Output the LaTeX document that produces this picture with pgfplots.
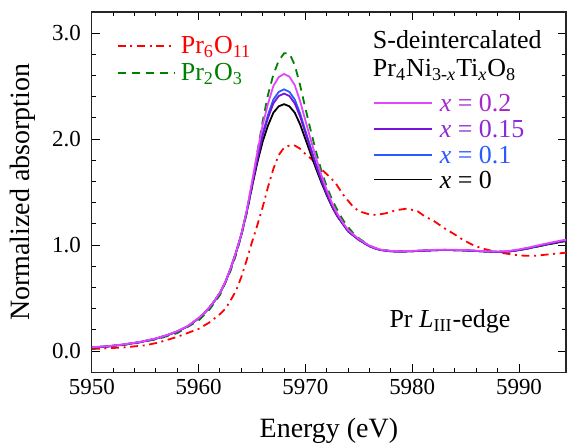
\documentclass[border=0pt]{standalone}
\usepackage{fontspec}
\setmainfont{Liberation Serif}
\usepackage{pgfplots}
\pgfplotsset{compat=1.18}
\definecolor{prsix}{RGB}{255,0,0}
\definecolor{prtwo}{RGB}{0,128,0}
\definecolor{magline}{RGB}{225,70,250}
\definecolor{magtext}{RGB}{165,40,205}
\definecolor{purline}{RGB}{120,20,215}
\definecolor{purtext}{RGB}{140,40,215}
\definecolor{bluline}{RGB}{40,90,255}

\begin{document}
\begin{tikzpicture}
\path[use as bounding box] (-46pt,-35pt) rectangle (238pt,186.5pt);
\begin{axis}[
  at={(0,0)}, anchor=south west,
  scale only axis, width=237.5pt, height=180.5pt,
  xmin=5950, xmax=5994.4, ymin=-0.2, ymax=3.2,
  xtick={5950,5960,5970,5980,5990}, minor x tick num=4,
  ytick={0,1,2,3}, minor y tick num=4,
  /pgf/number format/assume math mode=true,
  x tick label style={/pgf/number format/1000 sep={}},
  y tick label style={/pgf/number format/.cd,fixed,fixed zerofill,precision=1,/tikz/.cd, xshift=-2pt},
  tick align=inside, major tick length=4pt, minor tick length=2pt,
  tick style={black, line width=0.5pt},
  axis line style={line width=0.6pt, black!85},
  tick label style={font=\fontsize{11.5}{13}\selectfont},
  every axis x label/.style={at={(axis description cs:0.5,-0.163)}, anchor=center},
  every axis y label/.style={at={(axis description cs:-0.145,0.5)}, rotate=90, anchor=center},
  label style={font=\fontsize{14}{16}\selectfont},
  xlabel={Energy (eV)}, ylabel={Normalized absorption},
  every axis plot/.append style={line width=0.9pt},
]
% Pr6O11
\addplot[prsix, dash pattern=on 4pt off 2.3pt on 1pt off 2.3pt] coordinates {
  (5950,0.02) (5953,0.035) (5955,0.055) (5956.2,0.08) (5958,0.135) (5960,0.21)
  (5961,0.27) (5962,0.35) (5962.5,0.40) (5963,0.48) (5963.5,0.57) (5964,0.70)
  (5964.5,0.86) (5965,1.03) (5965.5,1.19) (5966,1.36) (5966.5,1.55) (5967,1.72)
  (5967.5,1.85) (5968,1.92) (5968.5,1.94) (5969,1.94) (5969.5,1.91) (5970,1.86)
  (5970.6,1.81) (5971,1.76) (5972,1.67) (5972.8,1.59) (5973.5,1.48) (5974.4,1.37)
  (5975,1.32) (5976,1.29) (5976.6,1.285) (5977.5,1.30) (5978.5,1.33) (5979.5,1.345)
  (5980.5,1.32) (5981.2,1.27) (5982,1.23) (5983,1.16) (5984,1.10) (5984.6,1.06)
  (5985.5,1.01) (5986.5,0.97) (5987.5,0.945) (5988.5,0.925) (5989.5,0.91)
  (5990.5,0.90) (5991.5,0.90) (5992.5,0.91) (5993.5,0.92) (5994.5,0.93)};
% Pr2O3
\addplot[prtwo, dash pattern=on 4pt off 3pt] coordinates {
  (5950,0.03) (5953,0.058) (5956,0.11) (5958,0.17) (5960,0.29) (5961,0.39)
  (5962,0.53) (5963,0.76) (5963.5,0.91) (5964,1.09) (5964.5,1.30) (5965,1.55)
  (5965.5,1.88) (5966,2.17) (5966.5,2.42) (5967,2.61) (5967.5,2.74) (5968,2.81)
  (5968.5,2.81) (5969,2.70) (5969.5,2.51) (5970,2.29) (5970.5,2.08) (5971,1.88)
  (5971.5,1.70) (5972,1.55) (5972.5,1.43) (5973,1.33) (5973.5,1.24) (5974,1.17)
  (5974.5,1.11) (5975,1.065) (5975.5,1.03) (5976,0.995) (5976.5,0.975) (5977,0.96)
  (5978,0.945) (5979,0.94) (5980,0.943) (5981,0.948) (5982,0.952) (5983,0.955)
  (5984,0.953) (5985,0.95) (5986,0.945) (5987,0.94) (5988,0.936) (5989,0.94)
  (5990,0.953) (5991,0.972) (5992,0.993) (5993,1.013) (5994,1.032) (5994.5,1.04)};
% x = 0
\addplot[black] coordinates {
  (5950,0.035) (5951.5,0.045) (5953,0.062) (5954.5,0.085) (5956,0.118) (5957,0.148)
  (5958,0.185) (5959,0.235) (5960,0.31) (5960.5,0.355) (5961,0.41) (5961.5,0.475)
  (5962,0.55) (5962.5,0.65) (5963,0.78) (5963.5,0.93) (5964,1.10) (5964.5,1.31)
  (5965,1.55) (5965.5,1.78) (5966,1.98) (5966.5,2.13) (5967,2.25) (5967.5,2.31)
  (5968,2.33) (5968.5,2.31) (5969,2.25) (5969.5,2.14) (5970,2.00) (5970.5,1.86)
  (5971,1.72) (5971.5,1.59) (5972,1.47) (5972.5,1.36) (5973,1.27) (5973.5,1.20)
  (5974,1.13) (5974.5,1.09) (5975,1.05) (5975.5,1.02) (5976,0.99) (5976.5,0.97)
  (5977,0.955) (5978,0.942) (5979,0.94) (5980,0.943) (5981,0.948) (5982,0.952)
  (5983,0.955) (5984,0.953) (5985,0.95) (5986,0.945) (5987,0.94) (5988,0.936)
  (5989,0.94) (5990,0.953) (5991,0.972) (5992,0.993) (5993,1.013) (5994,1.032) (5994.5,1.04)};
% x = 0.1
\addplot[bluline] coordinates {
  (5950,0.035) (5951.5,0.045) (5953,0.062) (5954.5,0.085) (5956,0.118) (5957,0.148)
  (5958,0.185) (5959,0.235) (5960,0.31) (5960.5,0.355) (5961,0.41) (5961.5,0.475)
  (5962,0.55) (5962.5,0.65) (5963,0.78) (5963.5,0.93) (5964,1.10) (5964.5,1.318)
  (5965,1.574) (5965.5,1.828) (5966,2.056) (5966.5,2.231) (5967,2.374) (5967.5,2.446)
  (5968,2.47) (5968.5,2.446) (5969,2.374) (5969.5,2.243) (5970,2.079) (5970.5,1.919)
  (5971,1.761) (5971.5,1.618) (5972,1.488) (5972.5,1.370) (5973,1.276) (5973.5,1.203)
  (5974,1.131) (5974.5,1.09) (5975,1.05) (5975.5,1.02) (5976,0.99) (5976.5,0.97)
  (5977,0.955) (5978,0.942) (5979,0.94) (5980,0.943) (5981,0.948) (5982,0.952)
  (5983,0.955) (5984,0.953) (5985,0.95) (5986,0.945) (5987,0.94) (5988,0.936)
  (5989,0.94) (5990,0.955) (5991,0.975) (5992,0.997) (5993,1.018) (5994,1.037) (5994.5,1.045)};
% x = 0.15
\addplot[purline] coordinates {
  (5950,0.035) (5951.5,0.045) (5953,0.062) (5954.5,0.085) (5956,0.118) (5957,0.148)
  (5958,0.185) (5959,0.235) (5960,0.31) (5960.5,0.355) (5961,0.41) (5961.5,0.475)
  (5962,0.55) (5962.5,0.65) (5963,0.78) (5963.5,0.93) (5964,1.10) (5964.5,1.315)
  (5965,1.567) (5965.5,1.814) (5966,2.034) (5966.5,2.202) (5967,2.338) (5967.5,2.407)
  (5968,2.43) (5968.5,2.407) (5969,2.338) (5969.5,2.214) (5970,2.057) (5970.5,1.902)
  (5971,1.749) (5971.5,1.610) (5972,1.483) (5972.5,1.367) (5973,1.274) (5973.5,1.202)
  (5974,1.131) (5974.5,1.09) (5975,1.05) (5975.5,1.02) (5976,0.99) (5976.5,0.97)
  (5977,0.955) (5978,0.942) (5979,0.94) (5980,0.943) (5981,0.948) (5982,0.952)
  (5983,0.955) (5984,0.953) (5985,0.95) (5986,0.945) (5987,0.94) (5988,0.936)
  (5989,0.94) (5990,0.955) (5991,0.975) (5992,0.997) (5993,1.018) (5994,1.037) (5994.5,1.045)};
% x = 0.2
\addplot[magline] coordinates {
  (5950,0.037) (5951.5,0.047) (5953,0.064) (5954.5,0.087) (5956,0.12) (5957,0.15)
  (5958,0.188) (5959,0.238) (5960,0.313) (5960.5,0.358) (5961,0.413) (5961.5,0.478)
  (5962,0.553) (5962.5,0.653) (5963,0.783) (5963.5,0.933) (5964,1.103) (5964.5,1.325)
  (5965,1.60) (5965.5,1.88) (5966,2.135) (5966.5,2.336) (5967,2.502) (5967.5,2.586)
  (5968,2.615) (5968.5,2.59) (5969,2.51) (5969.5,2.36) (5970,2.175) (5970.5,1.995)
  (5971,1.82) (5971.5,1.66) (5972,1.52) (5972.5,1.395) (5973,1.295) (5973.5,1.215)
  (5974,1.143) (5974.5,1.10) (5975,1.058) (5975.5,1.027) (5976,0.996) (5976.5,0.975)
  (5977,0.959) (5978,0.945) (5979,0.943) (5980,0.946) (5981,0.951) (5982,0.955)
  (5983,0.958) (5984,0.956) (5985,0.953) (5986,0.948) (5987,0.943) (5988,0.94)
  (5989,0.945) (5990,0.96) (5991,0.98) (5992,1.003) (5993,1.025) (5994,1.045) (5994.5,1.053)};

% legends
\draw[prsix, line width=0.9pt, dash pattern=on 4pt off 2.3pt on 1pt off 2.3pt]
  (axis description cs:0.0547,0.906) -- (axis description cs:0.1747,0.906);
\node[anchor=west, text=prsix, font=\fontsize{13}{15}\selectfont, inner sep=0pt]
  at (axis description cs:0.187,0.902) {Pr\textsubscript{6}O\textsubscript{11}};
\draw[prtwo, line width=0.9pt, dash pattern=on 4pt off 3pt]
  (axis description cs:0.0547,0.831) -- (axis description cs:0.1747,0.831);
\node[anchor=west, text=prtwo, font=\fontsize{13}{15}\selectfont, inner sep=0pt]
  at (axis description cs:0.187,0.827) {Pr\textsubscript{2}O\textsubscript{3}};

\node[anchor=west, font=\fontsize{13}{15}\selectfont, inner sep=0pt]
  at (axis description cs:0.592,0.922) {S-deintercalated};
\node[anchor=west, font=\fontsize{13}{15}\selectfont, inner sep=0pt]
  at (axis description cs:0.592,0.838) {Pr\textsubscript{4}Ni\textsubscript{3-\textit{x}}Ti\textsubscript{\textit{x}}O\textsubscript{8}};
\draw[magline, line width=0.9pt] (axis description cs:0.596,0.748) -- (axis description cs:0.718,0.748);
\node[anchor=west, text=magtext, font=\fontsize{13}{15}\selectfont, inner sep=0pt]
  at (axis description cs:0.733,0.748) {\textit{x} = 0.2};
\draw[purline, line width=0.9pt] (axis description cs:0.596,0.676) -- (axis description cs:0.718,0.676);
\node[anchor=west, text=purtext, font=\fontsize{13}{15}\selectfont, inner sep=0pt]
  at (axis description cs:0.733,0.676) {\textit{x} = 0.15};
\draw[bluline, line width=0.9pt] (axis description cs:0.596,0.604) -- (axis description cs:0.718,0.604);
\node[anchor=west, text=bluline, font=\fontsize{13}{15}\selectfont, inner sep=0pt]
  at (axis description cs:0.733,0.604) {\textit{x} = 0.1};
\draw[black, line width=0.9pt] (axis description cs:0.596,0.535) -- (axis description cs:0.718,0.535);
\node[anchor=west, text=black, font=\fontsize{13}{15}\selectfont, inner sep=0pt]
  at (axis description cs:0.733,0.535) {\textit{x} = 0};

\node[anchor=west, font=\fontsize{13}{15}\selectfont, inner sep=0pt]
  at (axis description cs:0.627,0.141) {Pr \textit{L}\textsubscript{III}-edge};
\end{axis}
\end{tikzpicture}
\end{document}
